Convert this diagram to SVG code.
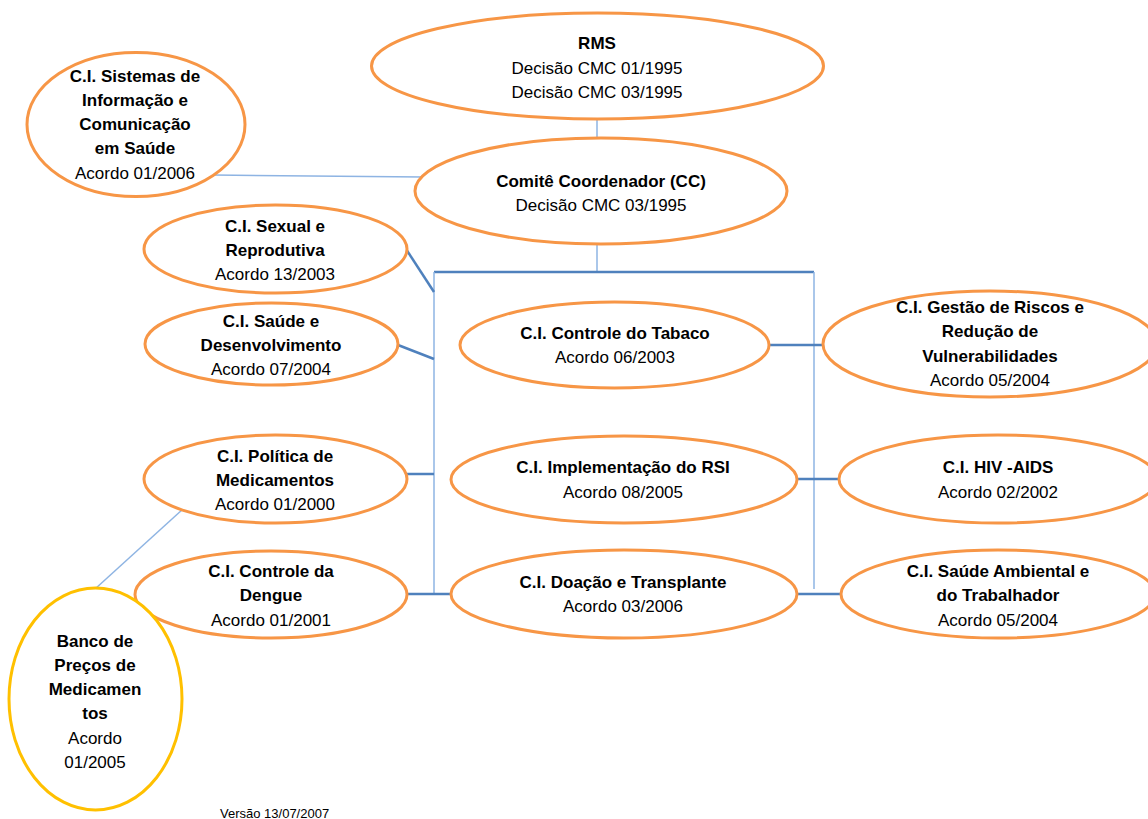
<svg xmlns="http://www.w3.org/2000/svg" width="1148" height="819" viewBox="0 0 1148 819">
<style>
.o{fill:#fff;stroke:#f79646;stroke-width:3}
.y{fill:#fff;stroke:#ffc000;stroke-width:3}
.t{font-family:"Liberation Sans",Arial,sans-serif;font-size:17px;fill:#000;text-anchor:middle}
.b{font-weight:bold}
.thin{stroke:#8eb4e3;stroke-width:1.5;fill:none}
.thick{stroke:#4f81bd;stroke-width:2.5;fill:none}
.v{font-family:"Liberation Sans",Arial,sans-serif;font-size:13px;fill:#000}
</style>
<rect width="1148" height="819" fill="#fff"/>
<g id="connectors">
<line class="thin" x1="597" y1="119" x2="597" y2="138"/>
<line class="thin" x1="597" y1="244" x2="597" y2="272"/>
<line class="thin" x1="213" y1="175" x2="423" y2="177"/>
<line class="thick" x1="434" y1="272" x2="814" y2="272"/>
<line class="thin" x1="434" y1="272" x2="434" y2="594"/>
<line class="thin" x1="814" y1="272" x2="814" y2="589"/>
<line class="thick" x1="406" y1="249" x2="434" y2="292"/>
<line class="thick" x1="398" y1="345" x2="434" y2="359"/>
<line class="thick" x1="406" y1="474" x2="434" y2="474"/>
<line class="thick" x1="406" y1="594" x2="452" y2="594"/>
<line class="thick" x1="769" y1="345" x2="823" y2="345"/>
<line class="thick" x1="797" y1="479" x2="840" y2="479"/>
<line class="thick" x1="797" y1="594" x2="842" y2="594"/>
<line class="thin" x1="183" y1="509" x2="95" y2="589" stroke-width="1"/>
</g>
<g id="rms">
<ellipse class="o" cx="597.5" cy="66" rx="226" ry="53"/>
<text class="t b" x="597" y="49">RMS</text>
<text class="t" x="597" y="74">Decisão CMC 01/1995</text>
<text class="t" x="597" y="98">Decisão CMC 03/1995</text>
</g>
<g id="cc">
<ellipse class="o" cx="601" cy="191" rx="186" ry="53"/>
<text class="t b" x="601" y="187">Comitê Coordenador (CC)</text>
<text class="t" x="601" y="211">Decisão CMC 03/1995</text>
</g>
<g id="sistemas">
<ellipse class="o" cx="136" cy="124.5" rx="109" ry="72"/>
<text class="t b" x="135" y="82">C.I. Sistemas de</text>
<text class="t b" x="135" y="106">Informação e</text>
<text class="t b" x="135" y="130">Comunicação</text>
<text class="t b" x="135" y="154">em Saúde</text>
<text class="t" x="135" y="179">Acordo 01/2006</text>
</g>
<g id="sexual">
<ellipse class="o" cx="275.5" cy="249" rx="131.5" ry="44"/>
<text class="t b" x="275" y="232">C.I. Sexual e</text>
<text class="t b" x="275" y="256">Reprodutiva</text>
<text class="t" x="275" y="280">Acordo 13/2003</text>
</g>
<g id="desenvolvimento">
<ellipse class="o" cx="271.5" cy="344" rx="126.5" ry="41"/>
<text class="t b" x="271" y="327">C.I. Saúde e</text>
<text class="t b" x="271" y="351">Desenvolvimento</text>
<text class="t" x="271" y="375">Acordo 07/2004</text>
</g>
<g id="politica">
<ellipse class="o" cx="275.5" cy="479" rx="131.5" ry="44"/>
<text class="t b" x="275" y="462">C.I. Política de</text>
<text class="t b" x="275" y="486">Medicamentos</text>
<text class="t" x="275" y="510">Acordo 01/2000</text>
</g>
<g id="dengue">
<ellipse class="o" cx="271" cy="594.5" rx="136" ry="43.5"/>
<text class="t b" x="271" y="577">C.I. Controle da</text>
<text class="t b" x="271" y="601">Dengue</text>
<text class="t" x="271" y="626">Acordo 01/2001</text>
</g>
<g id="banco">
<ellipse class="y" cx="95.5" cy="699" rx="86.5" ry="111"/>
<text class="t b" x="95" y="647">Banco de</text>
<text class="t b" x="95" y="671">Preços de</text>
<text class="t b" x="95" y="695">Medicamen</text>
<text class="t b" x="95" y="719">tos</text>
<text class="t" x="95" y="744">Acordo</text>
<text class="t" x="95" y="768">01/2005</text>
</g>
<g id="tabaco">
<ellipse class="o" cx="614.5" cy="345" rx="154.5" ry="43"/>
<text class="t b" x="615" y="339">C.I. Controle do Tabaco</text>
<text class="t" x="615" y="363">Acordo 06/2003</text>
</g>
<g id="rsi">
<ellipse class="o" cx="624" cy="479.5" rx="173" ry="43.5"/>
<text class="t b" x="623" y="473">C.I. Implementação do RSI</text>
<text class="t" x="623" y="498">Acordo 08/2005</text>
</g>
<g id="doacao">
<ellipse class="o" cx="624" cy="594" rx="173" ry="44"/>
<text class="t b" x="623" y="588">C.I. Doação e Transplante</text>
<text class="t" x="623" y="612">Acordo 03/2006</text>
</g>
<g id="gestao">
<ellipse class="o" cx="990" cy="344" rx="167" ry="53"/>
<text class="t b" x="990" y="313">C.I. Gestão de Riscos e</text>
<text class="t b" x="990" y="337">Redução de</text>
<text class="t b" x="990" y="362">Vulnerabilidades</text>
<text class="t" x="990" y="386">Acordo 05/2004</text>
</g>
<g id="hiv">
<ellipse class="o" cx="998" cy="479" rx="159" ry="44"/>
<text class="t b" x="998" y="473">C.I. HIV -AIDS</text>
<text class="t" x="998" y="498">Acordo 02/2002</text>
</g>
<g id="ambiental">
<ellipse class="o" cx="998" cy="594" rx="157" ry="44"/>
<text class="t b" x="998" y="577">C.I. Saúde Ambiental e</text>
<text class="t b" x="998" y="601">do Trabalhador</text>
<text class="t" x="998" y="626">Acordo 05/2004</text>
</g>
<text class="v" x="220" y="818">Versão 13/07/2007</text>
</svg>
